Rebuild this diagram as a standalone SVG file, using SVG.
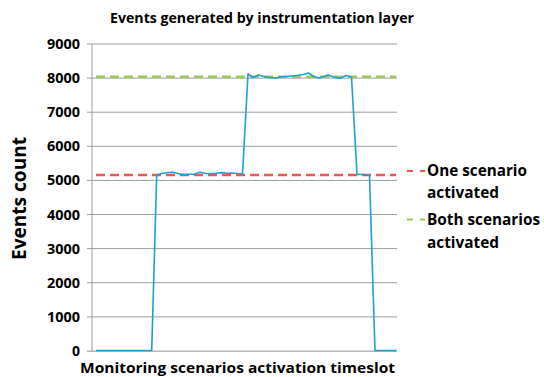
<svg xmlns="http://www.w3.org/2000/svg" width="544" height="377" viewBox="0 0 544 377">
  <style>
    text { font-family: "Open Sans", Lato, "Liberation Sans", sans-serif; font-weight: bold; fill: #000; }
    .tick { font-size: 14px; text-anchor: end; }
    .grid { stroke: #9c9c9c; stroke-width: 1; fill: none; }
    .legend { font-size: 16px; }
    .series { fill: none; stroke: #1f9fd6; stroke-width: 1.6; stroke-linejoin: round; }
    .ref-one { stroke: #ef5650; stroke-width: 2.6; stroke-dasharray: 9 5; fill: none; }
    .ref-both { stroke: #9bc75c; stroke-width: 2.6; stroke-dasharray: 9 5; fill: none; }
  </style>
  <rect width="544" height="377" fill="#ffffff"/>

  <!-- chart title -->
  <text x="262" y="23" font-size="15" text-anchor="middle" textLength="304" lengthAdjust="spacingAndGlyphs">Events generated by instrumentation layer</text>

  <!-- horizontal gridlines and left axis ticks -->
  <g id="gridlines">
    <path class="grid" d="M87 44H397M87 78.1H397M87 112.2H397M87 146.3H397M87 180.4H397M87 214.5H397M87 248.6H397M87 282.7H397M87 316.9H397"/>
    <path d="M87 351.2H397" stroke="#b5b5b5" stroke-width="1.6" fill="none"/>
    <path class="grid" d="M92 44V351"/>
  </g>

  <!-- value axis labels -->
  <g id="y-labels">
    <text class="tick" x="80" y="49" textLength="33" lengthAdjust="spacingAndGlyphs">9000</text>
    <text class="tick" x="80" y="83" textLength="33" lengthAdjust="spacingAndGlyphs">8000</text>
    <text class="tick" x="80" y="117" textLength="33" lengthAdjust="spacingAndGlyphs">7000</text>
    <text class="tick" x="80" y="151" textLength="33" lengthAdjust="spacingAndGlyphs">6000</text>
    <text class="tick" x="80" y="185" textLength="33" lengthAdjust="spacingAndGlyphs">5000</text>
    <text class="tick" x="80" y="219.5" textLength="33" lengthAdjust="spacingAndGlyphs">4000</text>
    <text class="tick" x="80" y="253.5" textLength="33" lengthAdjust="spacingAndGlyphs">3000</text>
    <text class="tick" x="80" y="287.5" textLength="33" lengthAdjust="spacingAndGlyphs">2000</text>
    <text class="tick" x="80" y="321.5" textLength="33" lengthAdjust="spacingAndGlyphs">1000</text>
    <text class="tick" x="80" y="356">0</text>
  </g>

  <!-- axis titles -->
  <text x="0" y="0" font-size="19" text-anchor="middle" textLength="123" lengthAdjust="spacingAndGlyphs" transform="translate(26 198.5) rotate(-90)">Events count</text>
  <text x="237.5" y="372.5" font-size="15" text-anchor="middle" textLength="315" lengthAdjust="spacingAndGlyphs">Monitoring scenarios activation timeslot</text>

  <!-- reference levels -->
  <g id="reference-lines">
    <path class="ref-one" d="M96 175H396"/>
    <path class="ref-both" d="M96 76.7H396"/>
  </g>

  <!-- measured events per timeslot -->
  <g id="series">
    <polyline class="series" points="96,350.5 151.7,350.5 156.7,175 162,173.5 168,172.5 173,172.3 178,173.5 183,174.5 189,174.2 194,174.3 200,172.3 205,173.2 211,173.8 216,173.3 222,172.6 227,173.3 232,173 237,173.5 242.5,174 248,74 253,77.5 258.5,75 264,76.5 269,77.5 275,78 280,77 286,76.5 291,76 297,75.5 303,74.5 308.5,73 313,76 318.5,78 324,76.5 328,75 334,77 340,78.5 346,75.5 351.5,77 357,174.5 363,174.5 369.5,175.5 375,350.5 396.5,350.5"/>
  </g>

  <!-- legend -->
  <g id="legend-one">
    <path d="M407 171H425" stroke="#ef5650" stroke-width="2" stroke-dasharray="6 7" fill="none"/>
    <text class="legend" x="427" y="176" textLength="100" lengthAdjust="spacingAndGlyphs">One scenario</text>
    <text class="legend" x="427" y="198" textLength="72" lengthAdjust="spacingAndGlyphs">activated</text>
  </g>
  <g id="legend-both">
    <path d="M407 219.5H425" stroke="#9bc75c" stroke-width="2" stroke-dasharray="6 7" fill="none"/>
    <text class="legend" x="427" y="225" textLength="113" lengthAdjust="spacingAndGlyphs">Both scenarios</text>
    <text class="legend" x="427" y="248" textLength="72" lengthAdjust="spacingAndGlyphs">activated</text>
  </g>
</svg>
